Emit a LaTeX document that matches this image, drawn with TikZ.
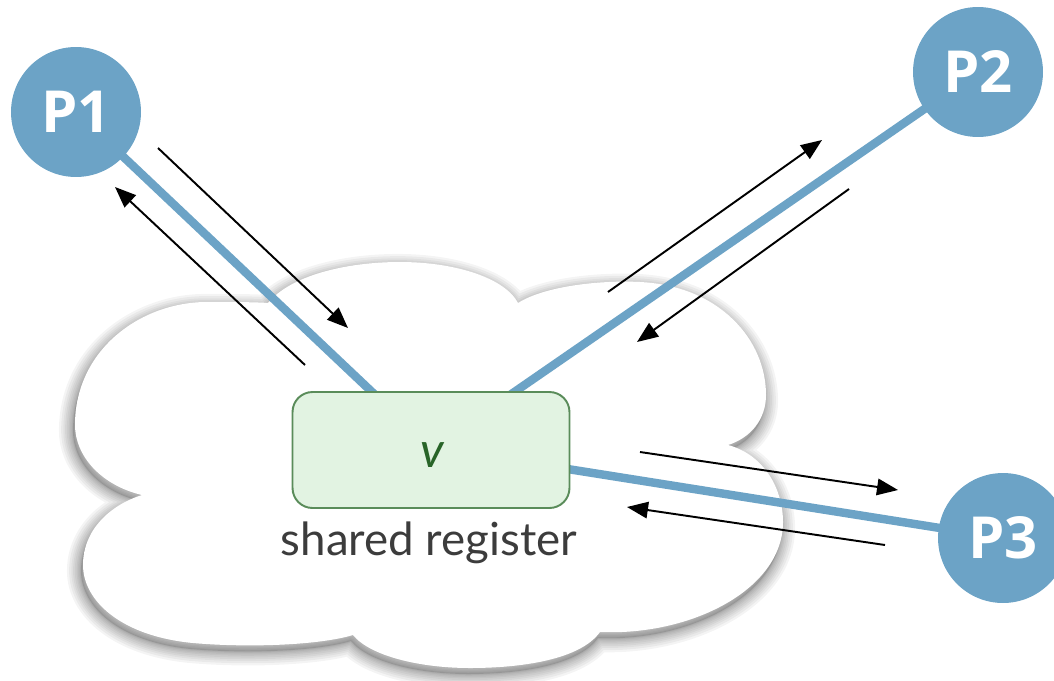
\documentclass[tikz,border=0pt]{standalone}
\usepackage{fontspec}
\setmainfont{Lato}
\newfontfamily\pfont{Open Sans}
\usetikzlibrary{arrows.meta}

\definecolor{procblue}{RGB}{108,163,198}
\definecolor{regfill}{RGB}{226,243,226}
\definecolor{regdraw}{RGB}{90,140,90}
\definecolor{regtext}{RGB}{40,100,40}
\definecolor{labeltext}{RGB}{60,60,60}

% outline of the cloud, in pixel units
\def\cloudpath{(268,303)
  .. controls (290,276) and (345,262) .. (400,262)
  .. controls (455,262) and (505,278) .. (518,303)
  .. controls (545,286) and (600,280) .. (640,282)
  .. controls (720,286) and (766,340) .. (766,395)
  .. controls (766,420) and (750,438) .. (728,445)
  .. controls (765,455) and (783,490) .. (783,522)
  .. controls (783,590) and (690,636) .. (600,632)
  .. controls (580,660) and (520,668) .. (470,668)
  .. controls (420,668) and (370,656) .. (353,635)
  .. controls (320,645) and (250,648) .. (193,643)
  .. controls (120,636) and (83,600) .. (83,565)
  .. controls (83,530) and (110,505) .. (142,495)
  .. controls (100,485) and (75,455) .. (75,425)
  .. controls (75,350) and (140,303) .. (205,302)
  .. controls (230,302) and (255,302) .. (268,303) -- cycle}

\tikzset{
  proc/.style={circle, fill=procblue, minimum size=2.6cm, inner sep=0pt,
    text=white, font=\pfont\bfseries\fontsize{33}{33}\selectfont},
  link/.style={draw=procblue, line width=4.8pt},
  msg/.style={draw=black, line width=1.1pt,
    -{Triangle[length=0.42cm,width=0.33cm]}},
  regbox/.style={draw=regdraw, fill=regfill, line width=1.1pt,
    rounded corners=0.4cm, minimum width=5.54cm, minimum height=2.32cm,
    inner sep=0pt}
}

\begin{document}
\begin{tikzpicture}[x=0.02cm, y=-0.02cm]
\useasboundingbox (0,0) rectangle (1054,680);

% soft shadow of the cloud
\begin{scope}[shift={(-2,6)}, line join=round]
  \foreach \w in {16,13.5,11,9,7,5,3.5,2,1}{
    \draw[black, opacity=0.045, line width=\w pt] \cloudpath;
  }
  \fill[black, opacity=0.12] \cloudpath;
\end{scope}
\fill[white] \cloudpath;

% processes and the register
\coordinate (k1) at (390,409);
\coordinate (k2) at (497,404);
\coordinate (k3) at (555,467);

\path (76,112) coordinate (c1) (978,72) coordinate (c2) (1003,538) coordinate (c3);

\draw[link] (c1) -- (k1);
\draw[link] (c2) -- (k2);
\draw[link] (c3) -- (k3);

\node[regbox] (reg) at (431,450) {};
\node[anchor=base, text=regtext, font=\itshape\fontsize{28}{28}\selectfont] (val) at (432,467) {v};
\node[anchor=base, text=labeltext, font=\fontsize{26}{26}\selectfont] (lbl) at (429,555) {shared register};

\node[proc] (p1) at (c1) {P1};
\node[proc] (p2) at (c2) {P2};
\node[proc] (p3) at (c3) {P3};

% messages travelling along each link
\coordinate (a1s) at (158,148); \coordinate (a1e) at (348,328);
\coordinate (a2s) at (305,365); \coordinate (a2e) at (115,187);
\coordinate (a3s) at (608,292); \coordinate (a3e) at (822,140);
\coordinate (a4s) at (849,189); \coordinate (a4e) at (637,342);
\coordinate (a5s) at (640,452); \coordinate (a5e) at (898,490);
\coordinate (a6s) at (885,545); \coordinate (a6e) at (627,507);

\draw[msg] (a1s) -- (a1e);
\draw[msg] (a2s) -- (a2e);
\draw[msg] (a3s) -- (a3e);
\draw[msg] (a4s) -- (a4e);
\draw[msg] (a5s) -- (a5e);
\draw[msg] (a6s) -- (a6e);
\end{tikzpicture}
\end{document}
